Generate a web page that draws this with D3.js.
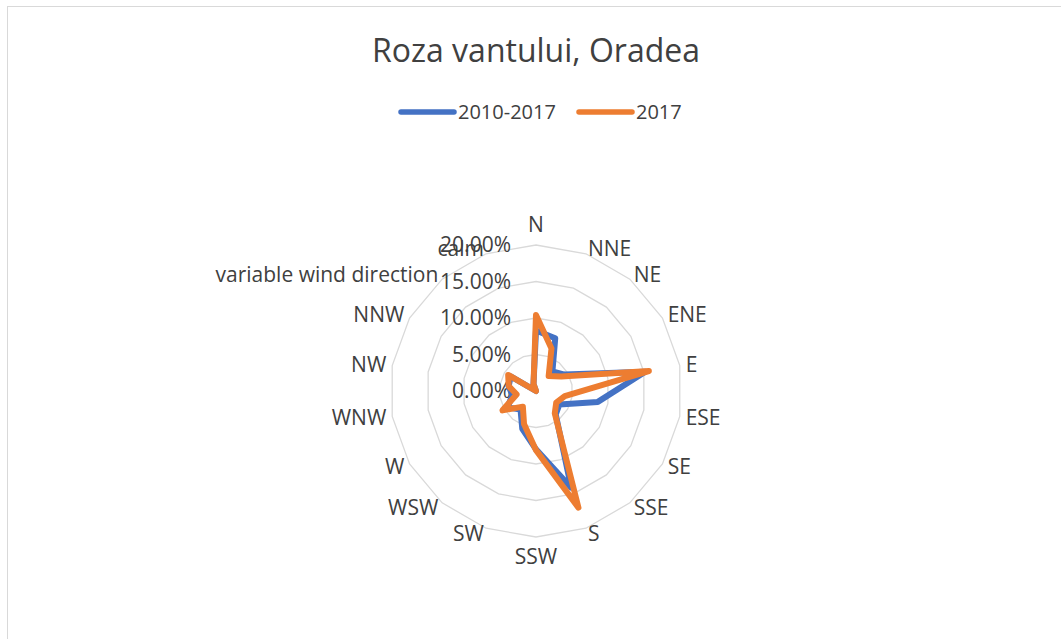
<!DOCTYPE html>
<html>
<head>
<meta charset="utf-8">
<script src="https://cdn.jsdelivr.net/npm/d3@7"></script>
<style>
	body { margin: 0; background: #fff; }
	text { font-family: "Open Sans", sans-serif; fill: #404040; }
</style>
</head>
<body>
<div id="chart-area"></div>
<script>

// wind rose data - share of observations per direction
let categories = ["N", "NNE", "NE", "ENE", "E", "ESE", "SE", "SSE", "S", "SSW", "SW", "WSW", "W", "WNW", "NW", "NNW", "variable wind direction", "calm"];

let values2010_2017 = [0.083, 0.077, 0.035, 0.045, 0.152, 0.086, 0.037, 0.042, 0.141, 0.080, 0.055, 0.033, 0.045, 0.033, 0.038, 0.040, 0.000, 0.010];
let values2017 = [0.104, 0.062, 0.027, 0.040, 0.157, 0.040, 0.032, 0.040, 0.170, 0.081, 0.048, 0.028, 0.053, 0.027, 0.038, 0.044, 0.000, 0.010];

let seriesNames = ["2010-2017", "2017"];
let seriesColors = ["#4472C4", "#ED7D31"];

let tickValues = [0, 0.05, 0.10, 0.15, 0.20];

let width = 1061;
let height = 639;

let cx = 536, cy = 391;

let svg = d3.select("#chart-area").append("svg")
	.attr("width", width)
	.attr("height", height);

// chart area border (runs off the right and bottom of the window)
svg.append("rect")
	.attr("x", 7.5)
	.attr("y", 6.5)
	.attr("width", 1100)
	.attr("height", 700)
	.attr("fill", "none")
	.attr("stroke", "#d9d9d9")
	.attr("stroke-width", 1);

// title
svg.append("text")
	.attr("x", cx)
	.attr("y", 62)
	.attr("text-anchor", "middle")
	.style("font-size", "32px")
	.text("Roza vantului, Oradea");

// scales
let r = d3.scaleLinear()
	.domain([0, 0.2])
	.range([0, 146]);

let angle = d3.scaleLinear()
	.domain([0, categories.length])
	.range([0, 2 * Math.PI]);

let g = svg.append("g")
	.attr("transform", "translate(" + cx + "," + cy + ")");

// gridline polygons
let ring = d3.lineRadial()
	.angle((d, i) => angle(i))
	.curve(d3.curveLinearClosed);

g.selectAll(".grid")
	.data(tickValues.slice(1))
	.enter().append("path")
	.attr("class", "grid")
	.attr("d", v => ring.radius(r(v))(categories))
	.attr("fill", "none")
	.attr("stroke", "#d9d9d9")
	.attr("stroke-width", 1.3);

// value axis labels
g.selectAll(".tick-label")
	.data(tickValues)
	.enter().append("text")
	.attr("class", "tick-label")
	.attr("x", -25)
	.attr("y", v => -r(v))
	.attr("dy", "0.35em")
	.attr("text-anchor", "end")
	.style("font-size", "21px")
	.text(d3.format(".2%"));

// category labels
let labelR = r(0.2) + 6;
g.selectAll(".cat-label")
	.data(categories)
	.enter().append("text")
	.attr("class", "cat-label")
	.attr("x", (d, i) => labelR * Math.sin(angle(i)))
	.attr("y", (d, i) => {
		let c = Math.cos(angle(i));
		let y = -labelR * c;
		if (Math.abs(Math.sin(angle(i))) < 0.1) y -= c * 14;
		return y;
	})
	.attr("dy", "0.35em")
	.attr("text-anchor", (d, i) => {
		let s = Math.sin(angle(i));
		return s > 0.1 ? "start" : (s < -0.1 ? "end" : "middle");
	})
	.style("font-size", "21px")
	.text(d => d);

// series lines
let line = d3.lineRadial()
	.angle((d, i) => angle(i))
	.radius(d => r(d))
	.curve(d3.curveLinearClosed);

g.selectAll(".series")
	.data([values2010_2017, values2017])
	.enter().append("path")
	.attr("class", "series")
	.attr("d", d => line(d))
	.attr("fill", "none")
	.attr("stroke", (d, i) => seriesColors[i])
	.attr("stroke-width", 6)
	.attr("stroke-linejoin", "round")
	.attr("stroke-linecap", "round");

// legend
let legendX = [399, 577];
let legend = svg.selectAll(".legend")
	.data(seriesNames)
	.enter().append("g")
	.attr("class", "legend")
	.attr("transform", (d, i) => "translate(" + legendX[i] + ",112)");

legend.append("line")
	.attr("x1", 2)
	.attr("x2", 55)
	.attr("stroke", (d, i) => seriesColors[i])
	.attr("stroke-width", 5.5)
	.attr("stroke-linecap", "round");

legend.append("text")
	.attr("x", 59)
	.attr("dy", "0.35em")
	.style("font-size", "20px")
	.text(d => d);

</script>
</body>
</html>
